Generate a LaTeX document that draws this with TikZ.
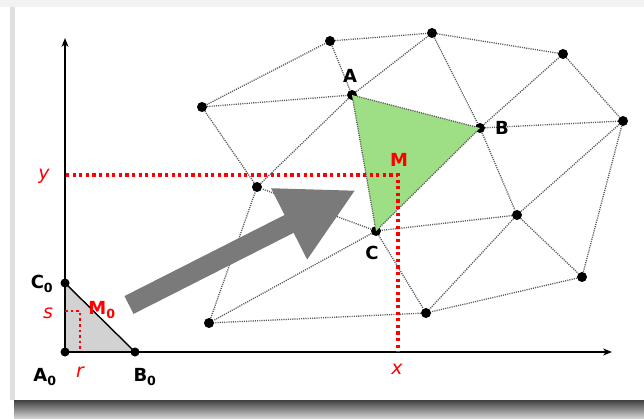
\documentclass[tikz,border=0pt]{standalone}
\usepackage{fontspec}
\setmainfont{DejaVu Sans}
\usepackage{tikz}
\usetikzlibrary{arrows.meta,positioning,calc}

\definecolor{meshgreen}{HTML}{9EDE85}
\definecolor{arrowgray}{HTML}{7A7A7A}

\begin{document}
\begin{tikzpicture}[x=1pt,y=-1pt,
  dot/.style={circle,fill=black,inner sep=0pt,minimum size=10pt},
  meshedge/.style={black!65,line width=1.3pt,dash pattern=on 1.1pt off 1.1pt},
  reddots/.style={red,line width=3.2pt,dash pattern=on 3.2pt off 3.4pt},
  smallreddots/.style={red,line width=2.6pt,dash pattern=on 2.6pt off 3pt},
  ptlabel/.style={font=\fontsize{18}{18}\selectfont\bfseries},
  coordlabel/.style={red,font=\fontsize{19}{19}\selectfont\itshape}]
% Page and frame with shadow
\useasboundingbox (0,0) rectangle (644,419);
\fill[white] (0,0) rectangle (644,419);
\fill[gray!10] (0,0) rectangle (644,7);
\fill[gray!25] (10,7) rectangle (15,400);
\shade[top color=black!75,bottom color=black!15] (14,400) rectangle (644,419);
% Mesh vertices
\node[dot] (p1) at (330,41) {};
\node[dot] (p2) at (432,33) {};
\node[dot] (p3) at (563,54) {};
\node[dot] (p4) at (202,107) {};
\node[dot] (p5) at (623,121) {};
\node[dot] (p6) at (257,187) {};
\node[dot] (p7) at (517,215) {};
\node[dot] (p8) at (582,277) {};
\node[dot] (p9) at (426,313) {};
\node[dot] (p10) at (209,323) {};
\node[dot] (A) at (352,95) {};
\node[dot] (B) at (480,128) {};
\node[dot] (C) at (376,231) {};
% Target triangle
\fill[meshgreen] (A.center) -- (B.center) -- (C.center) -- cycle;
% Mesh edges
\foreach \a/\b in {p4/p1,p1/p2,p2/p3,p3/p5,p5/p8,p8/p9,p9/p10,p10/p6,p6/p4,
                   p4/A,p1/A,A/p2,A/B,A/C,A/p6,p2/B,B/p3,B/p5,B/C,B/p7,
                   p5/p7,p7/p8,p7/p9,p7/C,C/p9,C/p10,C/p6}
  \draw[meshedge] (\a) -- (\b);
% Reference axes
\coordinate (A0) at (65,352);
\coordinate (B0) at (135,352);
\coordinate (C0) at (65,283);
\coordinate (xend) at (612,352);
\coordinate (yend) at (65,38);
\fill[gray!35] (A0) -- (B0) -- (C0) -- cycle;
\draw[line width=1.4pt] (C0) -- (B0);
\draw[-{Stealth[length=9pt,width=7pt]},line width=1.4pt] (A0) -- (xend);
\draw[-{Stealth[length=9pt,width=7pt]},line width=1.4pt] (A0) -- (yend);
\node[dot,minimum size=9pt] (a0) at (A0) {};
\node[dot,minimum size=9pt] (b0) at (B0) {};
\node[dot,minimum size=9pt] (c0) at (C0) {};
% Point M and its coordinates
\coordinate (M) at (398,175);
\coordinate (My) at (66,175);
\coordinate (Mx) at (398,352);
\draw[reddots] (My) -- (M) -- (Mx);
\coordinate (M0) at (80,311);
\coordinate (M0s) at (65,311);
\coordinate (M0r) at (80,352);
\draw[smallreddots] (M0s) -- (M0) -- (M0r);
% Mapping arrow
\coordinate (tail) at (129,305);
\coordinate (tip) at (356,190);
\draw[arrowgray,line width=20pt,-{Triangle[length=75pt,width=74pt]}] (tail) -- (tip);
% Labels
\node[ptlabel] (lA) at (350,76) {A};
\node[ptlabel] (lB) at (502,128) {B};
\node[ptlabel] (lC) at (372,253) {C};
\node[ptlabel,red] (lM) at (399,160) {M};
\node[ptlabel] (lA0) at (45,377) {A\textsubscript{0}};
\node[ptlabel] (lB0) at (145,377) {B\textsubscript{0}};
\node[ptlabel] (lC0) at (42,284) {C\textsubscript{0}};
\node[ptlabel,red] (lM0) at (102,310) {M\textsubscript{0}};
\node[coordlabel] (lx) at (397,369) {x};
\node[coordlabel] (ly) at (44,176) {y};
\node[coordlabel] (lr) at (80,372) {r};
\node[coordlabel] (ls) at (48,313) {s};
\end{tikzpicture}
\end{document}
